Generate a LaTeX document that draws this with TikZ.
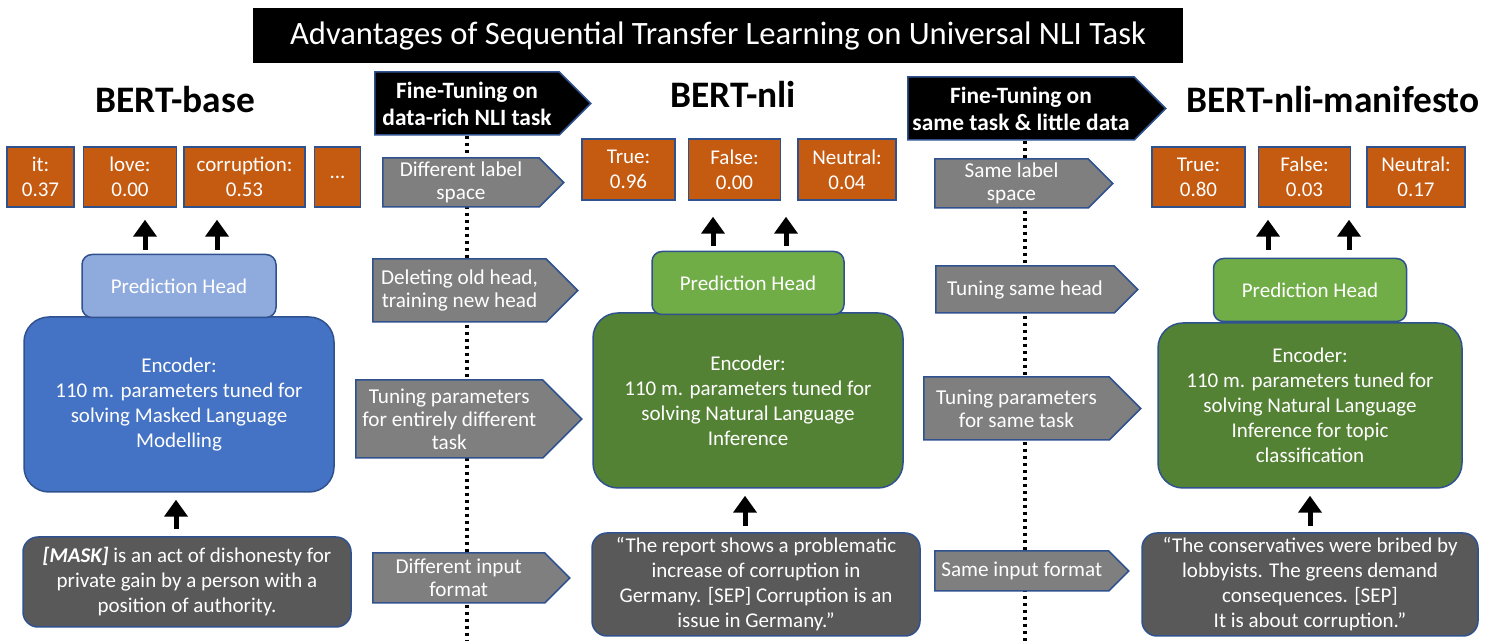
\documentclass[tikz,border=0pt]{standalone}
\usepackage{fontspec}
\setmainfont{Carlito}
\usetikzlibrary{arrows.meta,positioning,shapes.symbols}

\definecolor{rust}{HTML}{C55A11}
\definecolor{edgeblue}{HTML}{2F528F}
\definecolor{headblue}{HTML}{8FAADC}
\definecolor{encblue}{HTML}{4472C4}
\definecolor{headgreen}{HTML}{70AD47}
\definecolor{encgreen}{HTML}{548235}
\definecolor{stepgray}{HTML}{7F7F7F}
\definecolor{inputgray}{HTML}{595959}

\begin{document}
\begin{tikzpicture}[
    x=0.5pt, y=-0.5pt,
    txt/.style={
        text=white,
        align=center,
        font=\fontsize{10.5}{12.5}\selectfont
    },
    token/.style={
        txt,
        draw=edgeblue,
        line width=0.75pt,
        fill=rust,
        minimum height=30pt,
        inner sep=1pt
    },
    headbox/.style={
        txt,
        draw=edgeblue,
        line width=0.75pt,
        rounded corners=5pt,
        minimum width=96pt,
        minimum height=31.5pt
    },
    encbox/.style={
        txt,
        draw=edgeblue,
        line width=0.75pt,
        rounded corners=12.5pt,
        minimum width=155pt,
        minimum height=87.5pt
    },
    inbox/.style={
        txt,
        draw=edgeblue,
        line width=0.75pt,
        fill=inputgray,
        rounded corners=7.5pt,
        inner sep=1pt
    },
    stepbox/.style={
        signal,
        signal to=east,
        signal from=nowhere,
        signal pointer angle=90,
        anchor=west,
        draw=edgeblue,
        line width=0.75pt,
        fill=stepgray,
        text=white,
        align=center,
        inner sep=1pt,
        font=\fontsize{10.6}{11.4}\selectfont
    },
    phasebox/.style={
        stepbox,
        fill=black,
        minimum height=31.5pt,
        font=\bfseries\fontsize{11.7}{13.5}\selectfont
    },
    model/.style={
        anchor=base,
        font=\bfseries\fontsize{18.7}{21}\selectfont
    },
    dotline/.style={line width=1.75pt, dash pattern=on 1.75pt off 1.75pt},
    up/.style={-{Triangle[width=11.5pt,length=8.5pt]}, line width=2.5pt}
]
\useasboundingbox (0,0) rectangle (1496,641);

% heading
\node[fill=black, text=white, minimum width=465pt, minimum height=27.5pt,
      font=\fontsize{16.3}{18}\selectfont] (title) at (718,35.5)
      {Advantages of Sequential Transfer Learning on Universal NLI Task};

\node[model] (base) at (175,113) {BERT-base};
\node[model] (nli) at (733,108) {BERT-nli};
\node[model] (manif) at (1333,113) {BERT-nli-manifesto};

% the two fine-tuning stages with their dotted dividers
\node[phasebox, minimum width=108pt] (ft1) at (374,103.5) {Fine-Tuning on\\data-rich NLI task};
\node[phasebox, minimum width=129pt] (ft2) at (907,108.5) {Fine-Tuning on\\same task \& little data};

\coordinate (cut1) at (467,641);
\coordinate (cut2) at (1025,641);
\draw[dotline] (cut1 |- ft1.south) -- (cut1);
\draw[dotline] (cut2 |- ft2.south) -- (cut2);

\node[stepbox, minimum width=90.5pt, minimum height=24.5pt] (lab1) at (382,182.5) {Different label\\space};
\node[stepbox, minimum width=102.5pt, minimum height=31.5pt] (head1) at (372,290.5) {Deleting old head,\\training new head};
\node[stepbox, minimum width=113pt, minimum height=39pt] (par1) at (355,419) {Tuning parameters\\for entirely different\\task};
\node[stepbox, minimum width=98.5pt, minimum height=25pt] (fmt1) at (372,578) {Different input\\format};

\node[stepbox, minimum width=89pt, minimum height=24.5pt] (lab2) at (934,183.5) {Same label\\space};
\node[stepbox, minimum width=101pt, minimum height=23.5pt] (head2) at (935,289.5) {Tuning same head};
\node[stepbox, minimum width=108.5pt, minimum height=31.5pt] (par2) at (923,408.5) {Tuning parameters\\for same task};
\node[stepbox, minimum width=97pt, minimum height=20pt] (fmt2) at (934,571) {Same input format};

% BERT-base
\node[token, minimum width=33.5pt] (itA) at (40.5,177) {it:\\0.37};
\node[token, minimum width=46.5pt, right=4pt of itA] (loveA) {love:\\0.00};
\node[token, minimum width=60.5pt, right=3pt of loveA] (corrA) {corruption:\\0.53};
\node[token, minimum width=23pt, right=4pt of corrA] (moreA) {...};

\node[encbox, fill=encblue] (encA) at (179,404.5)
    {Encoder:\\110 m. parameters tuned for\\solving Masked Language\\Modelling};
\node[headbox, fill=headblue, minimum width=97pt, above=-1pt of encA] (headA) {Prediction Head};
\node[inbox, minimum width=164pt, minimum height=45pt] (inA) at (187,582)
    {\textbf{\textit{[MASK]}} is an act of dishonesty for\\private gain by a person with a\\position of authority.};

% BERT-nli
\node[token, minimum width=46.5pt, minimum height=30.5pt] (trueB) at (628.5,169.5) {True:\\0.96};
\node[token, minimum width=46pt, minimum height=30.5pt, right=6pt of trueB] (falseB) {False:\\0.00};
\node[token, minimum width=49pt, minimum height=30.5pt, right=8pt of falseB] (neutB) {Neutral:\\0.04};

\node[encbox, fill=encgreen] (encB) at (748,400.5)
    {Encoder:\\110 m. parameters tuned for\\solving Natural Language\\Inference};
\node[headbox, fill=headgreen, above=-1.5pt of encB] (headB) {Prediction Head};
\node[inbox, minimum width=164pt, minimum height=51.5pt] (inB) at (756,584.5)
    {``The report shows a problematic\\increase of corruption in\\Germany. [SEP] Corruption is an\\issue in Germany.''};

% BERT-nli-manifesto
\node[token, minimum width=46.5pt] (trueC) at (1198.5,177) {True:\\0.80};
\node[token, minimum width=46pt, right=6pt of trueC] (falseC) {False:\\0.03};
\node[token, minimum width=49pt, right=7.5pt of falseC] (neutC) {Neutral:\\0.17};

\node[encbox, fill=encgreen, minimum width=152pt, minimum height=82.5pt] (encC) at (1310,405.5)
    {Encoder:\\110 m. parameters tuned for\\solving Natural Language\\Inference for topic\\classification};
\node[headbox, fill=headgreen, minimum width=96.5pt, above=0pt of encC] (headC) {Prediction Head};
\node[inbox, minimum width=168pt, minimum height=51.5pt] (inC) at (1310,584.5)
    {``The conservatives were bribed by\\lobbyists. The greens demand\\consequences. [SEP]\\It is about corruption.''};

% flow through each model
\draw[up, shorten <=2pt, shorten >=6pt] ([xshift=-17pt]headA.north) -- ([xshift=-17pt]headA.north |- loveA.south);
\draw[up, shorten <=2pt, shorten >=6pt] ([xshift=19pt]headA.north) -- ([xshift=19pt]headA.north |- corrA.south);
\draw[up, shorten <=3.5pt, shorten >=3.5pt] ([xshift=-5.5pt]inA.north) -- ([xshift=-5.5pt]inA.north |- encA.south);

\draw[up, shorten <=2.5pt, shorten >=8pt] ([xshift=-17.5pt]headB.north) -- ([xshift=-17.5pt]headB.north |- falseB.south);
\draw[up, shorten <=2.5pt, shorten >=8pt] ([xshift=19pt]headB.north) -- ([xshift=19pt]headB.north |- falseB.south);
\draw[up, shorten <=3pt, shorten >=3.5pt] ([xshift=-5.5pt]inB.north) -- ([xshift=-5.5pt]inB.north |- encB.south);

\draw[up, shorten <=4pt, shorten >=6pt] ([xshift=-21pt]headC.north) -- ([xshift=-21pt]headC.north |- falseC.south);
\draw[up, shorten <=4pt, shorten >=6pt] ([xshift=19.5pt]headC.north) -- ([xshift=19.5pt]headC.north |- falseC.south);
\draw[up, shorten <=3pt, shorten >=3.5pt] (inC.north) -- (inC.north |- encC.south);
\end{tikzpicture}
\end{document}
